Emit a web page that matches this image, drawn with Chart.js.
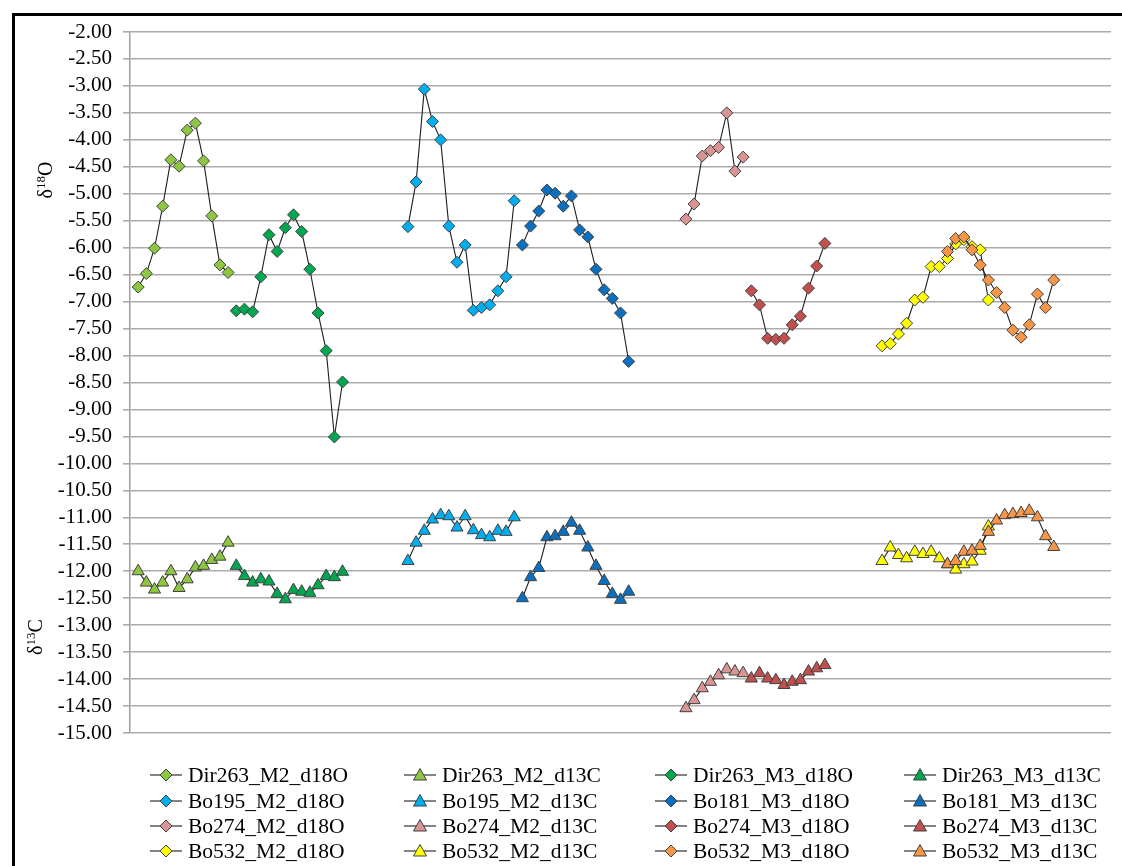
<!DOCTYPE html>
<html>
<head>
<meta charset="utf-8">
<script src="https://cdn.jsdelivr.net/npm/chart.js@4.4.1/dist/chart.umd.min.js"></script>
<style>
  html, body { margin:0; padding:0; background:#fff; }
  #wrap { position:relative; width:1122px; height:866px; overflow:hidden; background:#fff; }
  #frame { position:absolute; left:12px; top:13px; width:1200px; height:1000px; border-left:3px solid #000; border-top:3px solid #000; pointer-events:none; }
  canvas { position:absolute; left:0; top:0; }
  .ytitle { position:absolute; font-family:"Liberation Serif", "Times New Roman", serif; font-size:20px; color:#000; white-space:nowrap; transform:translate(-50%,-50%) rotate(-90deg); }
  .ytitle sup { font-size:13px; vertical-align:7px; line-height:0; }
  #legend { position:absolute; left:0; top:0; font-family:"Liberation Serif", "Times New Roman", serif; font-size:21.5px; color:#000; }
  .li { position:absolute; white-space:nowrap; height:24px; line-height:24px; }
  .li svg { position:absolute; left:0; top:5px; }
  .li span { position:absolute; left:38px; top:0; }
</style>
</head>
<body>
<div id="wrap">
  <canvas id="c" width="1122" height="866"></canvas>
  <div id="frame"></div>
  <div class="ytitle" style="left:45px; top:180px;">δ<sup>18</sup>O</div>
  <div class="ytitle" style="left:35px; top:637px;">δ<sup>13</sup>C</div>
  <div id="legend"></div>
</div>
<script>
// ---- data ----
const categoryCount = 121;
const seriesNames = [
  "Dir263_M2_d18O","Dir263_M2_d13C","Dir263_M3_d18O","Dir263_M3_d13C",
  "Bo195_M2_d18O","Bo195_M2_d13C","Bo181_M3_d18O","Bo181_M3_d13C",
  "Bo274_M2_d18O","Bo274_M2_d13C","Bo274_M3_d18O","Bo274_M3_d13C",
  "Bo532_M2_d18O","Bo532_M2_d13C","Bo532_M3_d18O","Bo532_M3_d13C"
];
const seriesStart = [1,1,13,13, 34,34,48,48, 68,68,76,76, 92,92,100,100];
const Dir263_M2_d18O = [-6.73,-6.48,-6.01,-5.23,-4.37,-4.49,-3.82,-3.69,-4.39,-5.41,-6.32,-6.46];
const Dir263_M2_d13C = [-12.00,-12.21,-12.34,-12.21,-12.00,-12.31,-12.15,-11.93,-11.90,-11.79,-11.73,-11.47];
const Dir263_M3_d18O = [-7.17,-7.14,-7.19,-6.54,-5.76,-6.07,-5.63,-5.39,-5.70,-6.40,-7.21,-7.91,-9.51,-8.49];
const Dir263_M3_d13C = [-11.90,-12.09,-12.21,-12.15,-12.19,-12.42,-12.52,-12.35,-12.38,-12.40,-12.26,-12.09,-12.11,-12.01];
const Bo195_M2_d18O = [-5.61,-4.78,-3.06,-3.66,-4.00,-5.60,-6.27,-5.95,-7.16,-7.11,-7.06,-6.80,-6.54,-5.13];
const Bo195_M2_d13C = [-11.81,-11.47,-11.25,-11.04,-10.96,-10.98,-11.19,-10.98,-11.24,-11.33,-11.37,-11.25,-11.27,-11.00];
const Bo181_M3_d18O = [-5.95,-5.60,-5.32,-4.93,-4.99,-5.23,-5.04,-5.67,-5.80,-6.40,-6.78,-6.94,-7.21,-8.11];
const Bo181_M3_d13C = [-12.50,-12.11,-11.94,-11.37,-11.35,-11.27,-11.10,-11.25,-11.56,-11.90,-12.18,-12.42,-12.53,-12.38];
const Bo274_M2_d18O = [-5.47,-5.19,-4.30,-4.20,-4.14,-3.50,-4.58,-4.32];
const Bo274_M2_d13C = [-14.54,-14.39,-14.17,-14.05,-13.93,-13.82,-13.86,-13.89];
const Bo274_M3_d18O = [-6.80,-7.06,-7.68,-7.70,-7.68,-7.43,-7.27,-6.75,-6.34,-5.92];
const Bo274_M3_d13C = [-13.99,-13.89,-13.99,-14.02,-14.11,-14.05,-14.02,-13.86,-13.80,-13.74];
const Bo532_M2_d18O = [-7.82,-7.78,-7.60,-7.40,-6.97,-6.92,-6.35,-6.35,-6.20,-5.93,-5.85,-5.98,-6.04,-6.97];
const Bo532_M2_d13C = [-11.81,-11.56,-11.70,-11.76,-11.64,-11.68,-11.64,-11.76,-11.87,-11.97,-11.87,-11.82,-11.62,-11.17];
const Bo532_M3_d18O = [-6.07,-5.83,-5.80,-6.04,-6.32,-6.60,-6.83,-7.11,-7.53,-7.66,-7.43,-6.86,-7.11,-6.60];
const Bo532_M3_d13C = [-11.87,-11.81,-11.64,-11.62,-11.53,-11.27,-11.06,-10.96,-10.94,-10.92,-10.88,-11.00,-11.35,-11.55];
const seriesValues = [
  Dir263_M2_d18O, Dir263_M2_d13C, Dir263_M3_d18O, Dir263_M3_d13C,
  Bo195_M2_d18O, Bo195_M2_d13C, Bo181_M3_d18O, Bo181_M3_d13C,
  Bo274_M2_d18O, Bo274_M2_d13C, Bo274_M3_d18O, Bo274_M3_d13C,
  Bo532_M2_d18O, Bo532_M2_d13C, Bo532_M3_d18O, Bo532_M3_d13C
];
const yMin = -15, yMax = -2, yStep = 0.5;

// ---- styles ----
const seriesColors = ["#8DC641","#8DC641","#00A650","#00A650",
                      "#00AEEF","#00AEEF","#0A6FBE","#0A6FBE",
                      "#D99594","#D99594","#C0504D","#C0504D",
                      "#FFFF00","#FFFF00","#F79646","#F79646"];
const lineColor = "#1e1e1e";
const markerEdge = "#404040";

const labels = Array.from({length: categoryCount}, () => "");
const datasets = seriesNames.map((name, i) => {
  const data = Array(categoryCount).fill(null);
  seriesValues[i].forEach((v, k) => { data[seriesStart[i] + k] = v; });
  const isO = name.endsWith("d18O");
  return {
    label: name,
    data,
    borderColor: lineColor,
    borderWidth: 1.1,
    backgroundColor: seriesColors[i],
    pointBackgroundColor: seriesColors[i],
    pointBorderColor: markerEdge,
    pointBorderWidth: 1,
    pointStyle: isO ? "rectRot" : "triangle",
    pointRadius: isO ? 6 : 7,
    tension: 0,
    spanGaps: false,
    order: seriesNames.length - i
  };
});

new Chart(document.getElementById("c"), {
  type: "line",
  data: { labels, datasets },
  options: {
    responsive: false,
    animation: false,
    events: [],
    layout: { padding: { left: 0, top: 32, right: 11, bottom: 133 } },
    plugins: { legend: { display: false }, tooltip: { enabled: false } },
    scales: {
      x: { type: "category", display: false, offset: false },
      y: {
        min: yMin, max: yMax,
        afterFit(scale) { scale.width = 130; },
        ticks: {
          stepSize: yStep,
          autoSkip: false,
          callback: v => Number(v).toFixed(2),
          font: { family: "'Liberation Serif', 'Times New Roman', serif", size: 21 },
          color: "#000",
          padding: 11
        },
        grid: { color: "#ababab", lineWidth: 1.6, tickLength: 7, tickColor: "#ababab", drawTicks: true },
        border: { color: "#9f9f9f", width: 1.5 }
      }
    }
  }
});

// ---- legend (HTML) ----
const legend = document.getElementById("legend");
const colX = [150, 404, 655, 904];
const rowY = [763, 789, 814, 839];
seriesNames.forEach((name, i) => {
  const col = i % 4, row = Math.floor(i / 4);
  const isO = name.endsWith("d18O");
  const c = seriesColors[i];
  const marker = isO
    ? `<polygon points="16,1 22,7 16,13 10,7" fill="${c}" stroke="${markerEdge}" stroke-width="1"/>`
    : `<polygon points="16,0.5 22.5,12 9.5,12" fill="${c}" stroke="${markerEdge}" stroke-width="1"/>`;
  const div = document.createElement("div");
  div.className = "li";
  div.style.left = colX[col] + "px";
  div.style.top = rowY[row] + "px";
  div.innerHTML = `<svg width="32" height="14" viewBox="0 0 32 14"><line x1="0" y1="7" x2="32" y2="7" stroke="${lineColor}" stroke-width="1.1"/>${marker}</svg><span>${name}</span>`;
  legend.appendChild(div);
});
</script>
</body>
</html>
